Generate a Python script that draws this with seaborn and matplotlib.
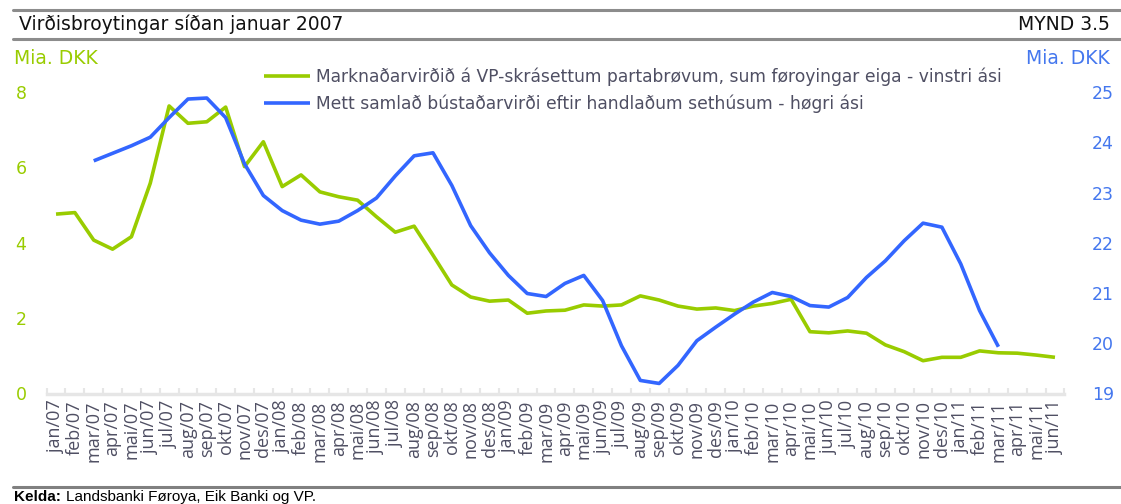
import numpy as np
import pandas as pd
import matplotlib
matplotlib.use("Agg")
import matplotlib.pyplot as plt
from matplotlib.ticker import FixedLocator
import seaborn as sns

# Data
months = ["jan/07", "feb/07", "mar/07", "apr/07", "mai/07", "jun/07", "jul/07", "aug/07",
          "sep/07", "okt/07", "nov/07", "des/07",
          "jan/08", "feb/08", "mar/08", "apr/08", "mai/08", "jun/08", "jul/08", "aug/08",
          "sep/08", "okt/08", "nov/08", "des/08",
          "jan/09", "feb/09", "mar/09", "apr/09", "mai/09", "jun/09", "jul/09", "aug/09",
          "sep/09", "okt/09", "nov/09", "des/09",
          "jan/10", "feb/10", "mar/10", "apr/10", "mai/10", "jun/10", "jul/10", "aug/10",
          "sep/10", "okt/10", "nov/10", "des/10",
          "jan/11", "feb/11", "mar/11", "apr/11", "mai/11", "jun/11"]

# left axis: market value of VP-registered securities (Mia. DKK)
market_value = [4.76, 4.80, 4.07, 3.83, 4.16, 5.58, 7.63, 7.17, 7.21, 7.60, 6.02, 6.68,
                5.49, 5.80, 5.35, 5.22, 5.13, 4.69, 4.28, 4.44, 3.67, 2.88, 2.56, 2.45,
                2.48, 2.13, 2.19, 2.21, 2.35, 2.32, 2.35, 2.59, 2.48, 2.32, 2.24, 2.27,
                2.20, 2.32, 2.39, 2.50, 1.64, 1.61, 1.66, 1.60, 1.29, 1.11, 0.87, 0.96,
                0.96, 1.13, 1.08, 1.07, 1.02, 0.96]

# right axis: estimated housing value (Mia. DKK)
housing_value = [None, None, 23.63, 23.78, 23.93, 24.10, 24.49, 24.86, 24.88, 24.49, 23.57, 22.94,
                 22.64, 22.45, 22.37, 22.43, 22.64, 22.89, 23.33, 23.73, 23.79, 23.14, 22.34, 21.80,
                 21.35, 20.99, 20.93, 21.19, 21.35, 20.85, 19.95, 19.26, 19.20, 19.56, 20.05, 20.32,
                 20.58, 20.82, 21.01, 20.93, 20.75, 20.72, 20.91, 21.31, 21.64, 22.04, 22.39, 22.31,
                 21.58, 20.65, 19.93, None, None, None]

left_ticks = [0, 2, 4, 6, 8]
right_ticks = [19, 20, 21, 22, 23, 24, 25]

label_green = "Marknaðarvirðið á VP-skrásettum partabrøvum, sum føroyingar eiga - vinstri ási"
label_blue = "Mett samlað bústaðarvirði eftir handlaðum sethúsum - høgri ási"

df = pd.DataFrame({"idx": np.arange(len(months)),
                   "market": market_value,
                   "housing": pd.array(housing_value, dtype="Float64")})

GREEN = "#99cc00"
BLUE = "#3366ff"
TXT = "#4f4f63"

sns.set_theme(style="white")
plt.rcParams["font.family"] = ["DejaVu Sans"]

fig = plt.figure(figsize=(11.21, 5.04), dpi=100)
ax = fig.add_axes([46.6 / 1121, 110.5 / 504, 1017.8 / 1121, 301.5 / 504])
ax2 = ax.twinx()

sns.lineplot(data=df, x="idx", y="market", ax=ax, color=GREEN, linewidth=2.6,
             label=label_green, legend=False)
sns.lineplot(data=df.dropna(), x="idx", y="housing", ax=ax2, color=BLUE, linewidth=2.6,
             label=label_blue, legend=False)
for a in (ax, ax2):
    for ln in a.lines:
        ln.set_clip_on(False)
        ln.set_solid_capstyle("butt")

ax.set_xlim(-0.5, len(months) - 0.5)
ax.set_ylim(0, 8)
ax2.set_ylim(19, 25)

ax.set_xticks(df["idx"])
ax.set_xticklabels(months, rotation=90, fontsize=13, color=TXT, family="Open Sans")
ax.xaxis.set_minor_locator(FixedLocator(np.arange(-0.5, len(months), 1.0)))
ax.tick_params(axis="x", which="major", length=0, pad=5)
ax.tick_params(axis="x", which="minor", bottom=True, direction="in", length=4.5,
               width=1.5, color="#e6e6e6")

ax.set_yticks(left_ticks)
ax.set_yticklabels([str(t) for t in left_ticks])
ax.tick_params(axis="y", length=0, pad=14.5, labelsize=12.5, labelcolor=GREEN)
ax2.set_yticks(right_ticks)
ax2.set_yticklabels([str(t) for t in right_ticks])
ax2.tick_params(axis="y", length=0, pad=20, labelsize=12.5, labelcolor="#4477ee")

ax.set_xlabel("")
ax.set_ylabel("")
ax2.set_ylabel("")
ax.grid(False)
ax2.grid(False)
for a in (ax, ax2):
    for s in ("top", "left", "right"):
        a.spines[s].set_visible(False)
ax2.spines["bottom"].set_visible(False)
ax.spines["bottom"].set_color("#e6e6e6")
ax.spines["bottom"].set_linewidth(2.5)

# legend
handles = ax.get_lines() + ax2.get_lines()
fig.legend(handles, [label_green, label_blue], loc="upper left",
           bbox_to_anchor=(264 / 1121, 1 - 67 / 504), frameon=False,
           fontsize=12.3, handlelength=2.7, handletextpad=0.35, labelspacing=0.5,
           borderpad=0, borderaxespad=0, labelcolor=TXT)

# header / footer decorations
fig.add_artist(plt.Line2D([13 / 1121, 1], [1 - 9.5 / 504] * 2, color="#8c8c8c", lw=2.2))
fig.add_artist(plt.Line2D([13 / 1121, 1], [1 - 38.5 / 504] * 2, color="#8c8c8c", lw=2.2))
fig.add_artist(plt.Line2D([13 / 1121, 1], [1 - 487 / 504] * 2, color="#808080", lw=2.2))

fig.text(19 / 1121, 1 - 24 / 504, "Virðisbroytingar síðan januar 2007", fontsize=13.5,
         color="#111111", va="center", ha="left")
fig.text(1110 / 1121, 1 - 24 / 504, "MYND 3.5", fontsize=13.5, color="#111111",
         va="center", ha="right")
fig.text(14 / 1121, 1 - 59 / 504, "Mia. DKK", fontsize=13.5, color=GREEN, va="center")
fig.text(1110 / 1121, 1 - 59 / 504, "Mia. DKK", fontsize=13.5, color="#4477ee",
         va="center", ha="right")
fig.text(14 / 1121, 1 - 497 / 504, "Kelda:", fontsize=11, fontweight="bold",
         color="black", va="center", family="Liberation Sans")
fig.text(66 / 1121, 1 - 497 / 504, "Landsbanki Føroya, Eik Banki og VP.", fontsize=11,
         color="black", va="center", family="Liberation Sans")

fig.savefig("out.png", dpi=100)
